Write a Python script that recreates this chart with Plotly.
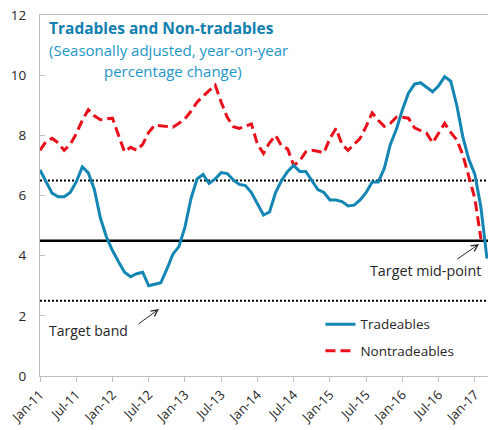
import plotly.graph_objects as go

months = list(range(75))
tick_positions = [0, 6, 12, 18, 24, 30, 36, 42, 48, 54, 60, 66, 72]
tick_labels = ["Jan-11", "Jul-11", "Jan-12", "Jul-12", "Jan-13", "Jul-13", "Jan-14",
               "Jul-14", "Jan-15", "Jul-15", "Jan-16", "Jul-16", "Jan-17"]

tradeables = [6.85, 6.45, 6.08, 5.96, 5.96, 6.1, 6.45, 6.95, 6.75, 6.2,
              5.25, 4.62, 4.17, 3.8, 3.45, 3.3, 3.4, 3.45, 3.0, 3.05,
              3.1, 3.55, 4.05, 4.3, 4.95, 5.9, 6.55, 6.7, 6.4, 6.55,
              6.76, 6.73, 6.52, 6.37, 6.33, 6.1, 5.75, 5.35, 5.45, 6.1,
              6.5, 6.8, 7.0, 6.8, 6.8, 6.5, 6.2, 6.1, 5.85, 5.85,
              5.8, 5.65, 5.68, 5.85, 6.1, 6.45, 6.45, 6.9, 7.7, 8.2,
              8.85, 9.4, 9.7, 9.75, 9.6, 9.45, 9.65, 9.95, 9.8, 9.0,
              7.95, 7.2, 6.7, 5.6, 3.9]

nontradeables = [7.5, 7.8, 7.9, 7.75, 7.5, 7.7, 8.05, 8.5, 8.85, 8.65,
                 8.52, 8.55, 8.57, 8.0, 7.45, 7.6, 7.5, 7.7, 8.1, 8.34,
                 8.32, 8.3, 8.27, 8.4, 8.55, 8.8, 9.1, 9.3, 9.5, 9.67,
                 9.1, 8.6, 8.29, 8.23, 8.3, 8.38, 7.7, 7.4, 7.75, 8.0,
                 7.65, 7.55, 7.0, 7.15, 7.45, 7.5, 7.47, 7.42, 7.9, 8.23,
                 7.7, 7.5, 7.7, 7.9, 8.3, 8.75, 8.5, 8.3, 8.4, 8.6,
                 8.6, 8.57, 8.25, 8.15, 8.07, 7.75, 8.1, 8.4, 8.1, 7.85,
                 7.35, 6.6, 5.9, 4.55]

target_mid = 4.5
target_band = [2.5, 6.5]

BLUE = "#1386B4"
RED = "#E8101A"
FONT = "Open Sans"
TXT = "#262626"

fig = go.Figure()

fig.add_trace(go.Scatter(
    x=months[:len(nontradeables)], y=nontradeables, mode="lines",
    name="Nontradeables", legendrank=2, legendgroup="nt",
    line=dict(color=RED, width=3, dash="10px,5px")))
fig.add_trace(go.Scatter(
    x=months, y=tradeables, mode="lines", name="Tradeables", legendrank=1,
    legendgroup="tr", line=dict(color=BLUE, width=3)))

for v in target_band:
    fig.add_shape(type="line", xref="paper", yref="y", x0=0, x1=1, y0=v, y1=v,
                  line=dict(color="black", width=2, dash="2px,2px"), layer="below")
fig.add_shape(type="line", xref="paper", yref="y", x0=0, x1=1,
              y0=target_mid, y1=target_mid, line=dict(color="black", width=2.5),
              layer="below")

annos = [
    dict(text="<b>Tradables and Non-tradables</b>", x=0.0156, y=0.964,
         xanchor="left", yanchor="middle", font=dict(size=15.5, color="#1180AE")),
    dict(text="(Seasonally adjusted, year-on-year", x=0.286, y=0.903,
         xanchor="center", yanchor="middle", font=dict(size=15, color="#1E96C8")),
    dict(text="percentage change)", x=0.297, y=0.845,
         xanchor="center", yanchor="middle", font=dict(size=15, color="#1E96C8")),
    dict(text="Target band", x=0.0156, y=0.125, xanchor="left", yanchor="middle",
         font=dict(size=14, color=TXT)),
    dict(text="Target mid-point", x=0.989, y=0.291, xanchor="right", yanchor="middle",
         font=dict(size=14.3, color=TXT)),
]
for a in annos:
    fig.add_annotation(xref="paper", yref="paper", showarrow=False, **a)

# arrows
fig.add_annotation(xref="paper", yref="paper", x=(159 - 40) / 448, y=(376 - 309) / 361,
                   ax=-22, ay=16, text="", showarrow=True, arrowhead=5,
                   arrowsize=1.3, arrowwidth=1, arrowcolor=TXT)
fig.add_annotation(xref="paper", yref="paper", x=(479 - 40) / 448, y=(376 - 244) / 361,
                   ax=-23, ay=16, text="", showarrow=True, arrowhead=5,
                   arrowsize=1.3, arrowwidth=1, arrowcolor=TXT)

fig.update_layout(
    width=488, height=430,
    margin=dict(l=40, r=0, t=15, b=54),
    paper_bgcolor="white", plot_bgcolor="white",
    font=dict(family=FONT, size=13, color=TXT),
    showlegend=True,
    legend=dict(x=0.626, y=0.186, xanchor="left", yanchor="top",
                traceorder="grouped", tracegroupgap=6,
                font=dict(size=13.5, color=TXT), bgcolor="rgba(0,0,0,0)"),
    xaxis=dict(range=[0, 74.17], tickmode="array", tickvals=tick_positions,
               ticktext=tick_labels, tickangle=-45, showgrid=False, zeroline=False,
               showline=True, linecolor="#BFBFBF", linewidth=1, mirror=True,
               ticks="outside", ticklen=5, tickcolor="#BFBFBF",
               tickfont=dict(size=13, color=TXT)),
    yaxis=dict(range=[0, 12], tickvals=[0, 2, 4, 6, 8, 10, 12], showgrid=False,
               zeroline=False, showline=True, linecolor="#BFBFBF", linewidth=1,
               ticks="inside", ticklen=5, tickcolor="#BFBFBF",
               ticklabelstandoff=10, tickfont=dict(size=13.5, color=TXT)),
)

fig.write_html("out.html", config={"displayModeBar": False},
               post_script="document.body.style.margin='0';document.body.style.padding='0';")
